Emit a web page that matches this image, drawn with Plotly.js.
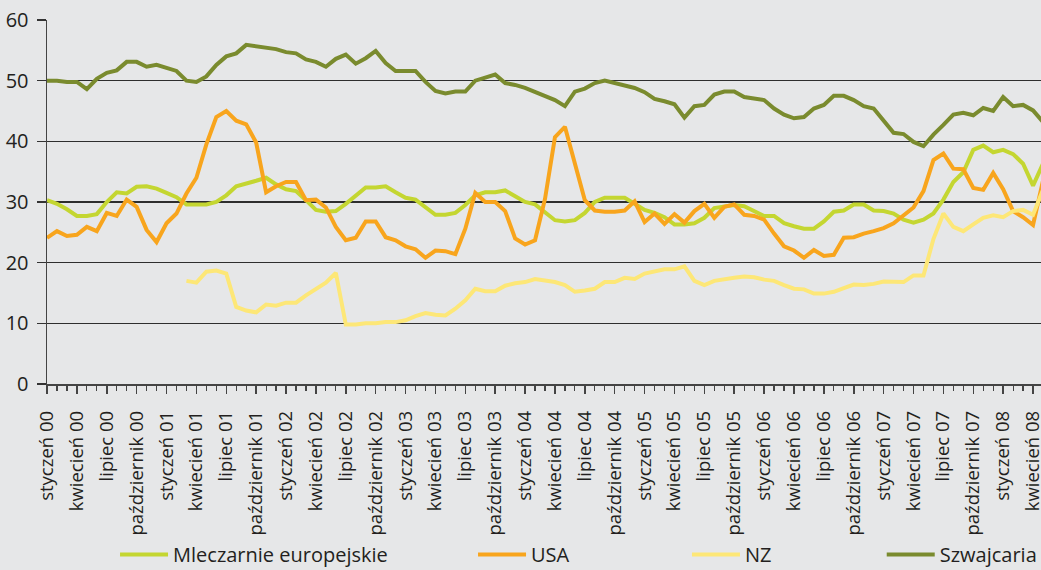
<!DOCTYPE html>
<html>
<head>
<meta charset="utf-8">
<script src="https://cdn.plot.ly/plotly-3.0.1.min.js"></script>
<style>html,body{margin:0;padding:0;background:#e6e7e8;overflow:hidden}</style>
</head>
<body>
<div id="chart" style="width:1041px;height:570px"></div>
<script>
// Monthly series, styczeń 2000 (index 0) ... maj 2008 (index 100)
const europe = [
  30.3, 29.7, 28.8, 27.7, 27.7, 28.0, 30.0, 31.6, 31.4, 32.5, 32.6, 32.2, 31.5, 30.8, 29.6, 29.6, 29.6, 30.0, 31.1, 32.6, 33.0, 33.5, 34.0, 32.9, 32.1, 31.8,
  30.3, 28.7, 28.4, 28.5, 29.7, 31.1, 32.4, 32.4, 32.6, 31.6, 30.7, 30.4, 29.2, 27.9, 27.9, 28.2, 29.5, 31.1, 31.6, 31.6, 31.9, 31.0, 30.0, 29.6, 28.2,
  27.0, 26.8, 27.0, 28.2, 30.0, 30.7, 30.7, 30.7, 29.7, 28.7, 28.2, 27.5, 26.3, 26.3, 26.5, 27.4, 29.0, 29.3, 29.5, 29.3, 28.5, 27.7, 27.7, 26.5, 26.0,
  25.6, 25.6, 26.8, 28.4, 28.6, 29.6, 29.6, 28.6, 28.5, 28.1, 27.1, 26.6, 27.1, 28.1, 30.4, 33.3, 34.9, 38.6, 39.3, 38.2, 38.6, 37.9, 36.3, 32.7, 36.3
];
const usa = [
  24.1, 25.2, 24.4, 24.6, 25.9, 25.2, 28.2, 27.7, 30.4, 29.2, 25.4, 23.4, 26.5, 28.1, 31.4, 34.0, 39.5, 44.0, 45.0, 43.4, 42.8, 39.8, 31.6, 32.6, 33.3, 33.3,
  30.3, 30.4, 29.1, 25.9, 23.7, 24.1, 26.8, 26.8, 24.2, 23.7, 22.7, 22.2, 20.8, 22.0, 21.9, 21.4, 25.6, 31.5, 30.0, 30.0, 28.5, 24.0, 23.0, 23.7, 30.5,
  40.7, 42.4, 36.3, 30.3, 28.6, 28.4, 28.4, 28.6, 30.1, 26.7, 28.1, 26.4, 28.0, 26.6, 28.5, 29.7, 27.4, 29.2, 29.6, 27.9, 27.7, 27.1, 24.8, 22.7, 22.0,
  20.8, 22.1, 21.1, 21.3, 24.1, 24.2, 24.8, 25.2, 25.7, 26.5, 27.8, 29.1, 31.8, 36.9, 38.0, 35.5, 35.4, 32.3, 32.0, 34.8, 32.1, 28.5, 27.5, 26.2, 33.5
];
const nz = [
  null, null, null, null, null, null, null, null, null, null, null, null, null, null,
  17.0, 16.7, 18.5, 18.7, 18.2, 12.7, 12.1, 11.8, 13.1, 12.9, 13.4, 13.4,
  14.6, 15.7, 16.7, 18.3, 9.8, 9.8, 10.0, 10.0, 10.2, 10.2, 10.5, 11.2, 11.7, 11.4, 11.3, 12.4, 13.8, 15.7, 15.3, 15.3, 16.2, 16.6, 16.8, 17.3, 17.0,
  16.8, 16.3, 15.2, 15.4, 15.7, 16.8, 16.8, 17.5, 17.3, 18.2, 18.6, 18.9, 18.9, 19.4, 17.0, 16.3, 17.0, 17.3, 17.5, 17.7, 17.6, 17.2, 17.0, 16.3, 15.7,
  15.6, 14.9, 14.9, 15.2, 15.8, 16.4, 16.3, 16.5, 16.9, 16.8, 16.8, 17.9, 17.9, 23.9, 28.1, 25.9, 25.2, 26.3, 27.4, 27.8, 27.5, 28.5, 28.7, 27.9, 32.0
];
const swiss = [
  50.0, 50.0, 49.8, 49.8, 48.6, 50.3, 51.3, 51.7, 53.1, 53.1, 52.3, 52.6, 52.1, 51.6, 50.0, 49.8, 50.7, 52.6, 54.0, 54.5, 55.9, 55.7, 55.4, 55.2, 54.7, 54.5,
  53.5, 53.1, 52.3, 53.6, 54.3, 52.8, 53.7, 54.9, 52.9, 51.6, 51.6, 51.6, 49.8, 48.3, 47.9, 48.2, 48.2, 50.0, 50.5, 51.0, 49.6, 49.3, 48.8, 48.1, 47.5,
  46.8, 45.8, 48.2, 48.7, 49.6, 50.0, 49.6, 49.3, 48.8, 48.1, 47.0, 46.6, 46.1, 43.9, 45.8, 46.0, 47.7, 48.2, 48.2, 47.3, 47.0, 46.8, 45.4, 44.4, 43.8,
  44.0, 45.4, 46.0, 47.5, 47.5, 46.8, 45.8, 45.4, 43.4, 41.4, 41.2, 39.9, 39.2, 41.1, 42.7, 44.4, 44.7, 44.3, 45.5, 45.0, 47.3, 45.8, 46.0, 45.1, 43.2
];
const seriesNames = ['Mleczarnie europejskie', 'USA', 'NZ', 'Szwajcaria'];
const seriesColors = ['#c4d631', '#f8a51d', '#fde777', '#7a8b2e'];
const tickLabels = [
  'styczeń 00','kwiecień 00','lipiec 00','październik 00',
  'styczeń 01','kwiecień 01','lipiec 01','październik 01',
  'styczeń 02','kwiecień 02','lipiec 02','październik 02',
  'styczeń 03','kwiecień 03','lipiec 03','październik 03',
  'styczeń 04','kwiecień 04','lipiec 04','październik 04',
  'styczeń 05','kwiecień 05','lipiec 05','październik 05',
  'styczeń 06','kwiecień 06','lipiec 06','październik 06',
  'styczeń 07','kwiecień 07','lipiec 07','październik 07',
  'styczeń 08','kwiecień 08'
];

const monthIdx = europe.map((_, i) => i);
const tickVals = tickLabels.map((_, k) => k * 3);
const allSeries = [europe, usa, nz, swiss];
const legendIds = ['legend', 'legend2', 'legend3', 'legend4'];
const legendX = [0.1105, 0.4544, 0.6599, 0.8470];

const FONT = 'Open Sans, Noto Sans, sans-serif';
const TXT = '#231f20';

const traces = allSeries.map((s, k) => ({
  x: monthIdx, y: s, type: 'scatter', mode: 'lines', name: seriesNames[k],
  line: {color: seriesColors[k], width: 4},
  legend: legendIds[k], connectgaps: false, hoverinfo: 'skip'
}));

const layout = {
  width: 1041, height: 570,
  margin: {l: 47, r: 0, t: 20, b: 186, autoexpand: false},
  paper_bgcolor: '#e6e7e8', plot_bgcolor: '#e6e7e8',
  font: {family: FONT, size: 20, color: TXT},
  showlegend: true,
  xaxis: {
    type: 'linear', range: [0, 99.8], showgrid: false, zeroline: false, automargin: false,
    showline: true, linecolor: '#444', linewidth: 1.5,
    tickmode: 'array', tickvals: tickVals, ticktext: tickLabels,
    tickangle: -90, ticks: 'outside', ticklen: 8, tickwidth: 1.5, tickcolor: '#444',
    ticklabelstandoff: 10, ticklabeloverflow: 'allow',
    tickfont: {family: FONT, size: 18.5, color: TXT},
    minor: {tickmode: 'linear', tick0: 0, dtick: 1, ticks: 'outside', ticklen: 5, tickwidth: 1.2, tickcolor: '#444', showgrid: false}
  },
  yaxis: {
    range: [0, 60], tickmode: 'linear', tick0: 0, dtick: 10, automargin: false,
    showgrid: true, gridcolor: '#2e2e2e', gridwidth: 1.6, zeroline: false,
    showline: true, linecolor: '#444', linewidth: 1.5,
    ticks: 'outside', ticklen: 9, tickwidth: 1.5, tickcolor: '#333',
    ticklabelstandoff: 4,
    tickfont: {family: FONT, size: 20, color: TXT}
  }
};
legendIds.forEach((id, k) => {
  layout[id] = {
    orientation: 'h', xref: 'container', yref: 'container',
    x: legendX[k], xanchor: 'left', y: 0.027, yanchor: 'middle',
    bgcolor: 'rgba(0,0,0,0)', borderwidth: 0, itemwidth: 48,
    font: {family: FONT, size: 20, color: TXT}, itemclick: false, itemdoubleclick: false
  };
});

Plotly.newPlot('chart', traces, layout, {displayModeBar: false, staticPlot: true});
</script>
</body>
</html>
